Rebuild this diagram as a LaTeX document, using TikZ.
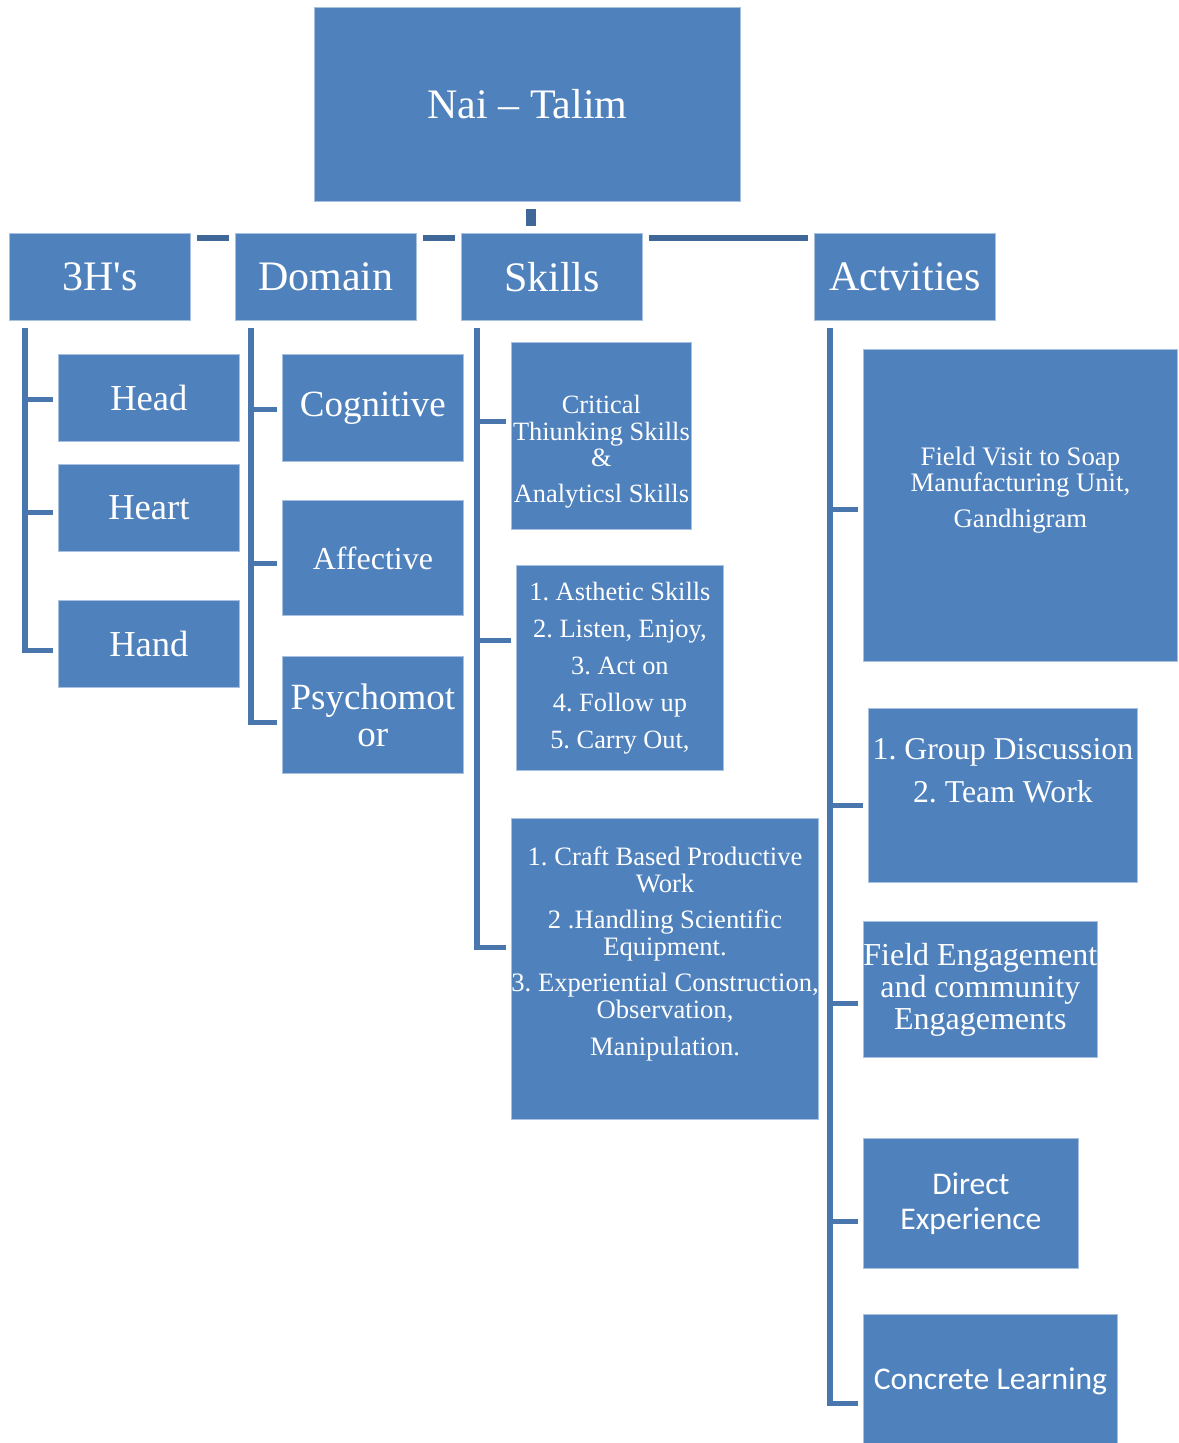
\documentclass[tikz,border=0pt]{standalone}
\usepackage{fontspec}
\setmainfont{Liberation Serif}
\newfontfamily\calibfont{Carlito}
\usetikzlibrary{calc}
\definecolor{tileblue}{HTML}{4F81BD}
\definecolor{tileedge}{HTML}{A9C1E0}
\definecolor{linkblue}{HTML}{4A76AE}
\definecolor{barblue}{HTML}{3F6797}
\newcommand{\pxu}{0.5pt}
\frenchspacing
\tikzset{
  tile/.style={draw=tileedge,line width=.4pt,fill=tileblue,text=white,
    inner sep=0pt,anchor=north west,align=center},
  branch/.style={linkblue,line width=2.6pt,shorten >=2.6pt},
  bar/.style={barblue,line width=3pt,shorten <=3pt,shorten >=3pt},
}
\begin{document}
\begin{tikzpicture}[x=0.5pt,y=-0.5pt]
\useasboundingbox (0,0) rectangle (1178,1443);
% top box and headers
\node[tile,minimum width=426*\pxu,minimum height=194*\pxu,font=\fontsize{21}{24}\selectfont] (nai) at (314,7) {Nai -- Talim};
\node[tile,minimum width=181*\pxu,minimum height=87*\pxu,font=\fontsize{21}{25}\selectfont] (h3) at (9,233) {3H\textquotesingle s};
\node[tile,minimum width=181*\pxu,minimum height=87*\pxu,font=\fontsize{21}{25}\selectfont] (dom) at (235,233) {Domain};
\node[tile,minimum width=181*\pxu,minimum height=87*\pxu,font=\fontsize{21}{25}\selectfont] (sk) at (461,233) {Skills};
\node[tile,minimum width=181*\pxu,minimum height=87*\pxu,font=\fontsize{21}{25}\selectfont] (act) at (814,233) {Actvities};
\coordinate (hub) at (531,238);
\draw[bar] (h3.east |- hub) -- (dom.west |- hub);
\draw[bar] (dom.east |- hub) -- (sk.west |- hub);
\draw[bar] (sk.east |- hub) -- (act.west |- hub);
\draw[barblue,line width=5pt,shorten <=3.5pt,shorten >=6pt] (hub |- nai.south) -- (hub);
% 3H's
\node[tile,minimum width=181*\pxu,minimum height=87*\pxu,font=\fontsize{18.3}{22}\selectfont] (head) at (58,354) {Head};
\node[tile,minimum width=181*\pxu,minimum height=87*\pxu,font=\fontsize{18.3}{22}\selectfont] (heart) at (58,464) {Heart};
\node[tile,minimum width=181*\pxu,minimum height=87*\pxu,font=\fontsize{18.3}{22}\selectfont] (hand) at (58,600) {Hand};
% domain
\node[tile,minimum width=181*\pxu,minimum height=107*\pxu,font=\fontsize{18.5}{22}\selectfont] (cog) at (282,354) {Cognitive};
\node[tile,minimum width=181*\pxu,minimum height=115*\pxu,font=\fontsize{16}{19}\selectfont] (aff) at (282,500) {Affective};
\node[tile,minimum width=181*\pxu,minimum height=117*\pxu,font=\fontsize{18.5}{18.5}\selectfont] (psy) at (282,656) {Psychomot\\or};
% skills
\node[tile,minimum width=180*\pxu,minimum height=187*\pxu,font=\fontsize{13.2}{13.2}\selectfont] (crit) at (511,342) {\mbox{}\\[12pt]Critical\\Thiunking Skills\\\&\\[5pt]Analyticsl Skills};
\node[tile,minimum width=207*\pxu,minimum height=205*\pxu,font=\fontsize{13.2}{18.5}\selectfont] (asth) at (516,565) {1. Asthetic Skills\\2. Listen, Enjoy,\\3. Act on\\4. Follow up\\5. Carry Out,};
\node[tile,minimum width=307*\pxu,minimum height=301*\pxu,font=\fontsize{13.3}{13.3}\selectfont] (craft) at (511,818) {1. Craft Based Productive\\Work\\[5pt]2 .Handling Scientific\\Equipment.\\[5pt]3. Experiential Construction,\\Observation,\\[5pt]Manipulation.\\[4.7pt]\mbox{}};
% activities
\node[tile,minimum width=314*\pxu,minimum height=312*\pxu,font=\fontsize{13.35}{13}\selectfont] (visit) at (863,349) {Field Visit to Soap\\Manufacturing Unit,\\[5pt]Gandhigram\\[5pt]\mbox{}};
\node[tile,minimum width=269*\pxu,minimum height=174*\pxu,font=\fontsize{15.9}{21.5}\selectfont] (grp) at (868,708) {1. Group Discussion\\2. Team Work\\[3.5pt]\mbox{}};
\node[tile,minimum width=232*\pxu,minimum height=136*\pxu,font=\fontsize{16}{16}\selectfont] (fld) at (863,921) {Field Engagement\\and community\\Engagements};
\node[tile,minimum width=215*\pxu,minimum height=130*\pxu,font=\calibfont\fontsize{15.8}{17.5}\selectfont] (dir) at (863,1138) {Direct\\Experience};
\node[tile,minimum width=254*\pxu,minimum height=134*\pxu,font=\calibfont\fontsize{15.8}{19}\selectfont] (conc) at (863,1314) {Concrete Learning};
% branches
\draw[branch] ($(h3.south west)+(16,7)$) |- ($(head.west)+(0,1.5)$);
\draw[branch] ($(h3.south west)+(16,7)$) |- ($(heart.west)+(0,4.5)$);
\draw[branch] ($(h3.south west)+(16,7)$) |- ($(hand.west)+(0,6.5)$);
\draw[branch] ($(dom.south west)+(16,7)$) |- ($(cog.west)+(0,1.5)$);
\draw[branch] ($(dom.south west)+(16,7)$) |- ($(aff.west)+(0,5.5)$);
\draw[branch] ($(dom.south west)+(16,7)$) |- ($(psy.west)+(0,7.5)$);
\draw[branch] ($(sk.south west)+(16,7)$) |- ($(crit.west)+(0,-14.5)$);
\draw[branch] ($(sk.south west)+(16,7)$) |- ($(asth.west)+(0,-27.5)$);
\draw[branch] ($(sk.south west)+(16,7)$) |- ($(craft.west)+(0,-21.5)$);
\draw[branch] ($(act.south west)+(16,7)$) |- ($(visit.west)+(0,4)$);
\draw[branch] ($(act.south west)+(16,7)$) |- ($(grp.west)+(0,10)$);
\draw[branch] ($(act.south west)+(16,7)$) |- ($(fld.west)+(0,14)$);
\draw[branch] ($(act.south west)+(16,7)$) |- ($(dir.west)+(0,18)$);
\draw[branch] ($(act.south west)+(16,7)$) |- ($(conc.west)+(0,22)$);
\end{tikzpicture}
\end{document}
